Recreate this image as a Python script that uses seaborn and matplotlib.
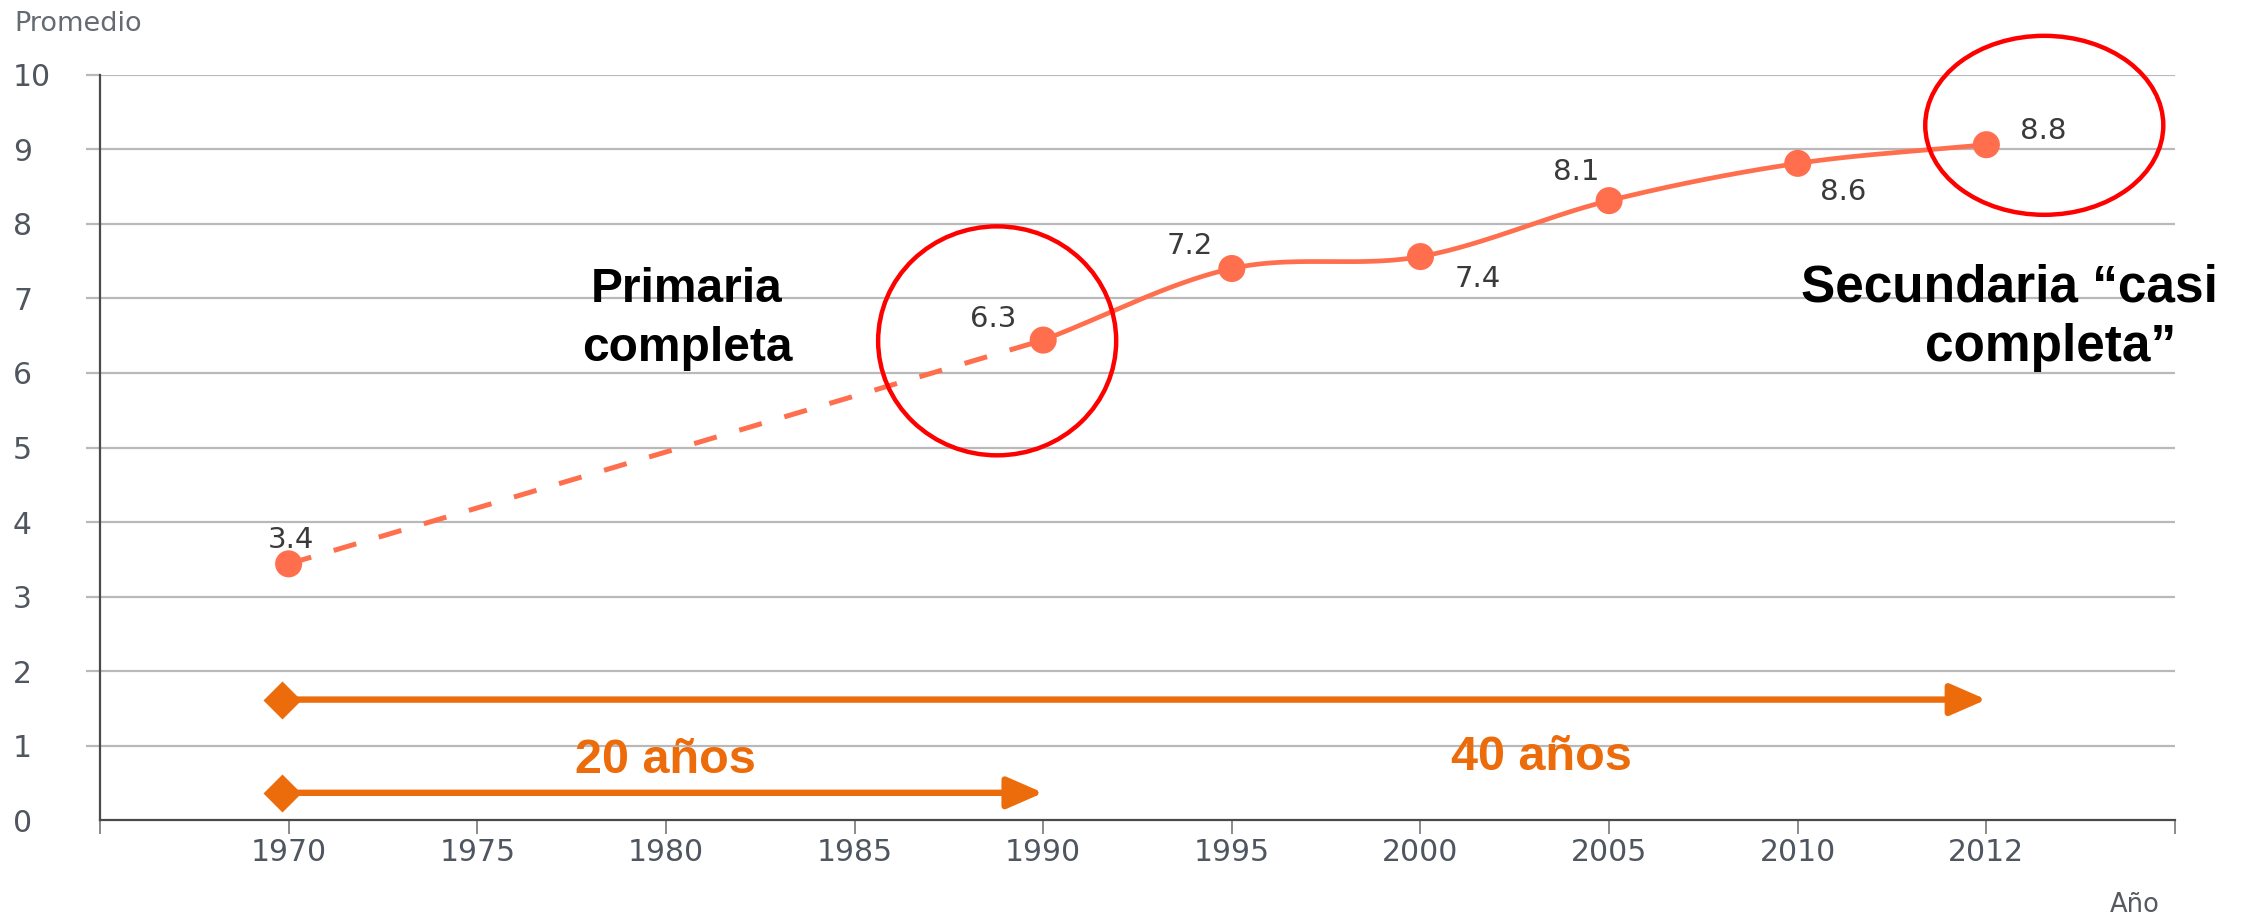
import numpy as np
import matplotlib
matplotlib.use("Agg")
import matplotlib.pyplot as plt
import seaborn as sns
import pandas as pd
from matplotlib.patches import Ellipse

# ---------------- data ----------------
tick_years = ["1970", "1975", "1980", "1985", "1990", "1995", "2000", "2005", "2010", "2012"]
years = ["1970", "1990", "1995", "2000", "2005", "2010", "2012"]
values = [3.44, 6.44, 7.40, 7.56, 8.31, 8.81, 9.06]
value_labels = ["3.4", "6.3", "7.2", "7.4", "8.1", "8.6", "8.8"]
y_ticks = list(range(0, 11))
highlight_years = ["1990", "2012"]
span_start = "1970"
span_ends = ["2012", "1990"]
span_levels = [1.62, 0.37]
span_labels = ["40 años", "20 años"]

# ---------------- style ----------------
W, H = 2249, 917
sns.set_theme(style="white")
plt.rcParams["font.family"] = ["DejaVu Sans"]

LINE = "#FF6F4E"
ORANGE = "#EC6B0A"
GRID = "#b9b9b9"
TICKC = "#4f5660"

fig = plt.figure(figsize=(W / 100, H / 100), dpi=100)


def fx(px):
    return px / W


def fy(py):
    return 1 - py / H


ax_left, ax_right, ax_top, ax_bottom = 100, 2175, 74.6, 820.4
ax = fig.add_axes([fx(ax_left), fy(ax_bottom), fx(ax_right - ax_left), (ax_bottom - ax_top) / H])
ax.set_xlim(-1, len(tick_years))
ax.set_ylim(0, 10)

pos = {y: i for i, y in enumerate(tick_years)}
xs = [pos[y] for y in years]
df = pd.DataFrame({"x": xs, "v": values})

# grid
for v in y_ticks[1:]:
    ax.axhline(v, color=GRID, lw=1.6, zorder=0)

# dashed estimated segment
seg = df.iloc[:2]
sns.lineplot(data=seg, x="x", y="v", ax=ax, color=LINE, lw=3.6, zorder=3, sort=False)
ax.lines[-1].set_linestyle((0, (4.7, 4.7)))


def catmull(x, y, n=50):
    x = np.asarray(x, float)
    y = np.asarray(y, float)
    px = np.concatenate([[2 * x[0] - x[1]], x, [2 * x[-1] - x[-2]]])
    py = np.concatenate([[2 * y[0] - y[1]], y, [2 * y[-1] - y[-2]]])
    t = np.linspace(0, 1, n)
    ox, oy = [], []
    for i in range(1, len(px) - 2):
        P = [np.array([px[j], py[j]]) for j in (i - 1, i, i + 1, i + 2)]
        pts = 0.5 * (
            (2 * P[1])[None, :]
            + np.outer(t, -P[0] + P[2])
            + np.outer(t ** 2, 2 * P[0] - 5 * P[1] + 4 * P[2] - P[3])
            + np.outer(t ** 3, -P[0] + 3 * P[1] - 3 * P[2] + P[3])
        )
        ox.append(pts[:, 0])
        oy.append(pts[:, 1])
    return np.concatenate(ox), np.concatenate(oy)


sx, sy = catmull(df["x"].iloc[1:], df["v"].iloc[1:])
ax.plot(sx, sy, color=LINE, lw=3.4, zorder=3, solid_capstyle="round")

sns.scatterplot(data=df, x="x", y="v", ax=ax, color=LINE, s=380, edgecolor="none", zorder=4, legend=False)

label_offsets = [(2, 17.5), (-36, 15.5), (-30, 16.5), (41, -16.5), (-24, 20.5), (33, -20.5), (41, 10)]
for x, v, lab, off in zip(xs, values, value_labels, label_offsets):
    ax.annotate(lab, (x, v), xytext=off, textcoords="offset points", ha="center", va="center",
                fontsize=21, color="#3a3a3a", zorder=6)

# span arrows
for end, lvl, lab in zip(span_ends, span_levels, span_labels):
    x0, x1 = pos[span_start], pos[end]
    ax.annotate("", xy=(x1, lvl), xytext=(x0 - 0.02, lvl),
                arrowprops=dict(arrowstyle="-|>,head_length=1.1,head_width=0.48", color=ORANGE,
                                lw=4.6, shrinkA=0, shrinkB=0, mutation_scale=20), zorder=5)
    ax.plot([x0 - 0.035], [lvl], marker="D", ms=19, color=ORANGE, mec="none", zorder=6, clip_on=False)

# red highlight ellipses
ell_specs = [(-0.244, -0.01, 1.262, 3.07), (0.307, 0.26, 1.262, 2.40)]
for yr, (dx, dy, w, h) in zip(highlight_years, ell_specs):
    i = years.index(yr)
    e = Ellipse((xs[i] + dx, values[i] + dy), w, h, fill=False, edgecolor="#FF0000", lw=3.2,
                zorder=7, clip_on=False)
    ax.add_patch(e)

# axes styling
ax.set_xticks(list(range(-1, len(tick_years) + 1)))
ax.set_xticklabels([""] + tick_years + [""])
ax.set_yticks(y_ticks)
ax.set_yticklabels([str(v) for v in y_ticks])
ax.tick_params(axis="x", direction="out", length=10, width=1.4, color="#8a8a8a", pad=3,
               labelsize=21.5, labelcolor=TICKC, bottom=True)
ax.tick_params(axis="y", direction="out", length=10, width=1.6, color=GRID, pad=52.6,
               labelsize=21.5, labelcolor=TICKC, left=True)
for lab in ax.get_yticklabels():
    lab.set_horizontalalignment("left")
ax.yaxis.get_major_ticks()[0].tick1line.set_visible(False)
ax.set_xlabel("")
ax.set_ylabel("")
for s in ["top", "right"]:
    ax.spines[s].set_visible(False)
ax.spines["left"].set_color("#4a4a4a")
ax.spines["left"].set_linewidth(1.6)
ax.spines["bottom"].set_color("#4a4a4a")
ax.spines["bottom"].set_linewidth(1.6)
ax.spines["left"].set_zorder(2)

# figure texts
fig.text(fx(14), fy(24), "Promedio", ha="left", va="center", fontsize=19.5, color="#666b72")
fig.text(fx(2160), fy(905), "Año", ha="right", va="center", fontsize=18.5, color="#555a60")

bold = dict(family=["Liberation Sans", "DejaVu Sans"], weight="bold", color="black")
fig.text(fx(687), fy(302), "Primaria", ha="center", va="baseline", fontsize=34.5, **bold)
fig.text(fx(687), fy(361), "completa", ha="center", va="baseline", fontsize=34.5, **bold)
fig.text(fx(2009), fy(301), "Secundaria \u201ccasi", ha="center", va="baseline", fontsize=37, **bold)
fig.text(fx(2051), fy(361), "completa\u201d", ha="center", va="baseline", fontsize=37, **bold)

obold = dict(family=["Liberation Sans", "DejaVu Sans"], weight="bold", color=ORANGE, fontsize=35)
fig.text(fx(665), fy(773), span_labels[1], ha="center", va="baseline", **obold)
fig.text(fx(1541), fy(770), span_labels[0], ha="center", va="baseline", **obold)

fig.savefig("out.png", dpi=100)
